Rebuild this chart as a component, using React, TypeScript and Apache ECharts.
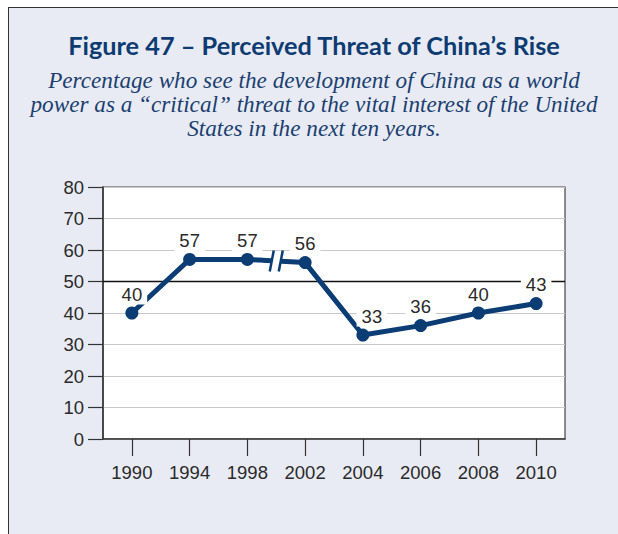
import React, { useEffect, useRef } from "react";
import * as echarts from "echarts";

const years = ["1990", "1994", "1998", "2002", "2004", "2006", "2008", "2010"];
const values = [40, 57, 57, 56, 33, 36, 40, 43];
const yMin = 0;
const yMax = 80;
const yInterval = 10;
const referenceLine = 50;
const breakAfterIndex = 2;

const titleText = "Figure 47 \u2013 Perceived Threat of China\u2019s Rise";
const subtitleLines = [
  "Percentage who see the development of China as a world",
  "power as a \u201ccritical\u201d threat to the vital interest of the United",
  "States in the next ten years.",
];

const NAVY = "#0b3d74";
const LABEL_FONT = "'Liberation Sans', Arial, sans-serif";
const W = 610;

export default function App() {
  const ref = useRef<HTMLDivElement>(null);

  useEffect(() => {
    if (!ref.current) return;
    const chart = echarts.init(ref.current, undefined, { renderer: "svg" });
    const option: any = {
      animation: false,
      backgroundColor: "transparent",
      grid: {
        left: 94,
        right: 54,
        top: 179,
        bottom: 96,
        show: true,
        backgroundColor: "#ffffff",
        borderColor: "#444",
        borderWidth: 1.2,
        containLabel: false,
      },
      xAxis: {
        type: "category",
        data: years,
        boundaryGap: true,
        axisLine: { show: true, lineStyle: { color: "#333", width: 1.5 } },
        axisTick: {
          show: true,
          alignWithLabel: true,
          inside: false,
          length: 17,
          lineStyle: { color: "#333", width: 1.2 },
        },
        axisLabel: {
          margin: 24,
          fontFamily: LABEL_FONT,
          fontSize: 18.5,
          color: "#2a2a2a",
        },
        splitLine: { show: false },
      },
      yAxis: {
        type: "value",
        min: yMin,
        max: yMax,
        interval: yInterval,
        axisLine: { show: true, lineStyle: { color: "#333", width: 1.5 } },
        axisTick: {
          show: true,
          inside: false,
          length: 15,
          lineStyle: { color: "#333", width: 1.2 },
        },
        axisLabel: {
          margin: 19,
          fontFamily: LABEL_FONT,
          fontSize: 18.5,
          color: "#2a2a2a",
        },
        splitLine: { show: true, lineStyle: { color: "#c9c9c9", width: 1.2 } },
      },
      series: [
        {
          type: "line",
          data: values.map((v, i) =>
            i === 4 ? { value: v, label: { offset: [9, 0] } } : v
          ),
          symbol: "circle",
          symbolSize: 13,
          lineStyle: { color: NAVY, width: 5 },
          itemStyle: { color: NAVY },
          z: 5,
          label: {
            show: true,
            position: "top",
            distance: 2,
            fontFamily: LABEL_FONT,
            fontSize: 18.5,
            color: "#2a2a2a",
            backgroundColor: "#ffffff",
            padding: [1, 5],
          },
          markLine: {
            silent: true,
            symbol: "none",
            label: { show: false },
            lineStyle: { color: "#111", width: 1.3, type: "solid" },
            data: [{ yAxis: referenceLine }],
            z: 1,
          },
        },
      ],
    };
    chart.setOption(option);

    const p1 = chart.convertToPixel({ seriesIndex: 0 }, [breakAfterIndex, values[breakAfterIndex]]) as number[];
    const p2 = chart.convertToPixel({ seriesIndex: 0 }, [breakAfterIndex + 1, values[breakAfterIndex + 1]]) as number[];
    const mx = (p1[0] + p2[0]) / 2;
    const my = (p1[1] + p2[1]) / 2;
    const half = 10.5;
    const slant = 2;
    const off = 4.5;
    chart.setOption({
      graphic: [
        {
          type: "text",
          x: W / 2,
          y: 37,
          silent: true,
          style: {
            text: titleText,
            align: "center",
            verticalAlign: "middle",
            fontFamily: "Lato, 'Open Sans', sans-serif",
            fontWeight: "bold",
            fontSize: 25.3,
            fill: "#0d3b72",
          },
        },
        {
          type: "text",
          x: W / 2,
          y: 60,
          silent: true,
          style: {
            text: subtitleLines.join("\n"),
            align: "center",
            verticalAlign: "top",
            fontFamily: "'Liberation Serif', 'DejaVu Serif', serif",
            fontStyle: "italic",
            fontSize: 23.2,
            lineHeight: 24,
            fill: "#1b3f70",
          },
        },
        {
          type: "polygon",
          z: 100,
          silent: true,
          shape: {
            points: [
              [mx - off + slant, my - 4],
              [mx + off + slant, my - 4],
              [mx + off - slant, my + 4],
              [mx - off - slant, my + 4],
            ],
          },
          style: { fill: "#ffffff" },
        },
        {
          type: "line",
          z: 101,
          silent: true,
          shape: { x1: mx - off + slant, y1: my - half, x2: mx - off - slant, y2: my + half },
          style: { stroke: NAVY, lineWidth: 2.5 },
        },
        {
          type: "line",
          z: 101,
          silent: true,
          shape: { x1: mx + off + slant, y1: my - half, x2: mx + off - slant, y2: my + half },
          style: { stroke: NAVY, lineWidth: 2.5 },
        },
      ],
    });

    return () => chart.dispose();
  }, []);

  return (
    <div
      style={{
        position: "fixed",
        left: 8,
        top: 7,
        width: W,
        height: 527,
        borderTop: "1px solid #333",
        borderLeft: "1px solid #333",
        background: "#e8ebf3",
        overflow: "hidden",
      }}
    >
      <div ref={ref} style={{ width: W, height: 527 }} />
    </div>
  );
}
